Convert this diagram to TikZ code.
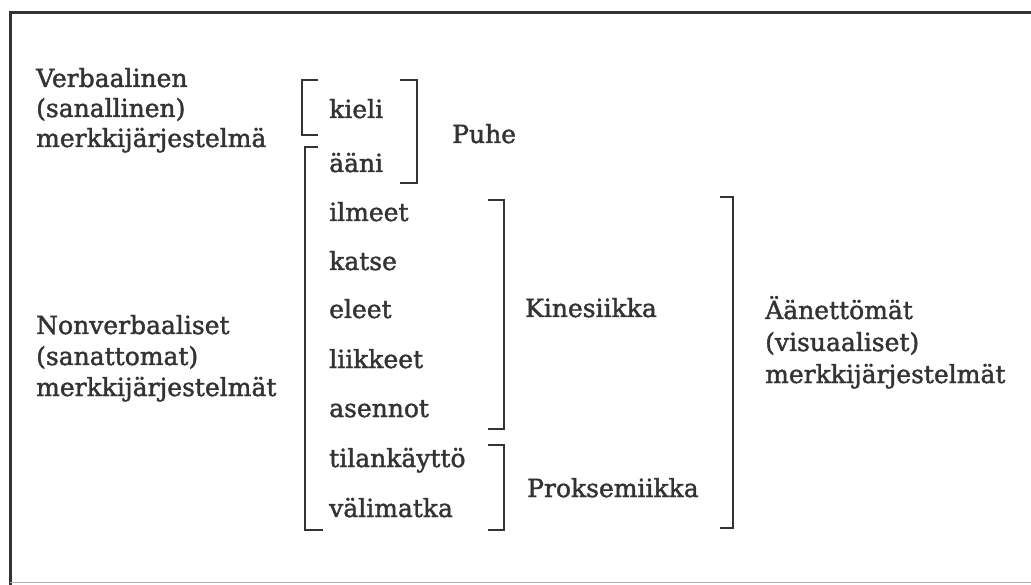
\documentclass[tikz,border=0pt]{standalone}
\usepackage{fontspec}
\setmainfont{DejaVu Serif}[FakeBold=1.6]
\definecolor{ink}{HTML}{333333}
\begin{document}
\begin{tikzpicture}[x=1pt,y=-1pt,
  txt/.style={anchor=base west,inner sep=0pt,text=ink,font=\fontsize{25}{31}\selectfont,align=left},
  brk/.style={draw=ink,line width=2.6pt,line cap=butt,line join=miter}]
\useasboundingbox (0,0) rectangle (1031,585);
% frame
\draw[ink,line width=3pt] (10,585) -- (10,13) -- (1031,13);
\draw[gray!60,line width=1pt] (10,582) -- (1031,582);
% left column
\node[txt] (verb) at (36,87) {Verbaalinen};
\node[txt] (verb2) at (36,117) {(sanallinen)};
\node[txt] (verb3) at (36,147) {merkkijärjestelmä};
\node[txt] (nonv) at (36,334) {Nonverbaaliset};
\node[txt] (nonv2) at (36,365) {(sanattomat)};
\node[txt] (nonv3) at (36,396) {merkkijärjestelmät};
% items
\node[txt] (kieli) at (329,118) {kieli};
\node[txt] (aani) at (329,172) {ääni};
\node[txt] (ilmeet) at (329,221) {ilmeet};
\node[txt] (katse) at (329,270) {katse};
\node[txt] (eleet) at (329,318) {eleet};
\node[txt] (liikkeet) at (329,368) {liikkeet};
\node[txt] (asennot) at (329,417) {asennot};
\node[txt] (tila) at (329,467) {tilankäyttö};
\node[txt] (vali) at (329,517) {välimatka};
% group labels
\node[txt] (puhe) at (452,143) {Puhe};
\node[txt] (kines) at (525,317) {Kinesiikka};
\node[txt] (proks) at (527,497) {Proksemiikka};
\node[txt] (aan1) at (765,319) {Äänettömät};
\node[txt] (aan2) at (765,351) {(visuaaliset)};
\node[txt] (aan3) at (765,383) {merkkijärjestelmät};
% brackets
\draw[brk] (318,80) -- (302,80) -- (302,135) -- (318,135);
\draw[brk] (400,80) -- (417,80) -- (417,183) -- (400,183);
\draw[brk] (318,147) -- (305,147) -- (305,530) -- (323,530);
\draw[brk] (488,200) -- (504,200) -- (504,429) -- (488,429);
\draw[brk] (488,445) -- (504,445) -- (504,530) -- (488,530);
\draw[brk] (720,197) -- (733,197) -- (733,528) -- (720,528);
\end{tikzpicture}
\end{document}
